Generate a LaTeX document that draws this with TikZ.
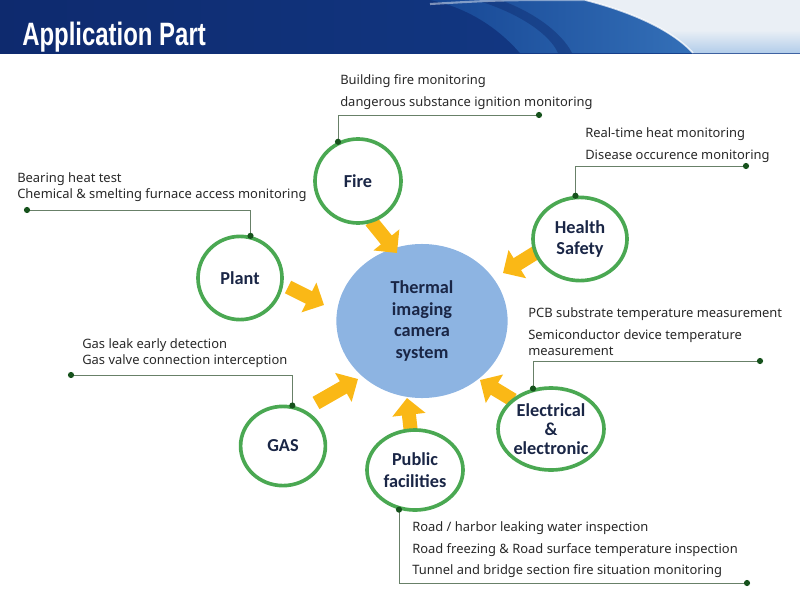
\documentclass[tikz,border=0pt]{standalone}
\usepackage{fontspec}
\usepackage{graphicx}
\setmainfont{Noto Sans}
\newfontfamily\labelfont{Carlito}
\newfontfamily\titlefont{Liberation Sans}
\usetikzlibrary{arrows.meta,shapes.geometric}

\definecolor{navyhead}{RGB}{14,42,110}
\definecolor{bluehead}{RGB}{20,62,140}
\definecolor{swooshblue}{RGB}{52,112,184}
\definecolor{swooshdark}{RGB}{22,70,148}
\definecolor{paletop}{RGB}{234,239,245}
\definecolor{palebottom}{RGB}{178,205,234}
\definecolor{ringgreen}{RGB}{74,168,82}
\definecolor{corefill}{RGB}{141,180,226}
\definecolor{labelnavy}{RGB}{26,38,70}
\definecolor{arrowgold}{RGB}{250,184,22}
\definecolor{leadline}{RGB}{104,128,104}
\definecolor{dotgreen}{RGB}{22,82,28}
\definecolor{desctext}{RGB}{40,40,40}

\begin{document}
\begin{tikzpicture}[x=0.025cm, y=-0.025cm,
    ring/.style={ellipse, draw=ringgreen, line width=2.6pt, fill=white, inner sep=0pt, align=center,
        font=\labelfont\bfseries\fontsize{13}{15.5}\selectfont, text=labelnavy},
    leader/.style={draw=leadline, line width=0.7pt},
    pin/.style={fill=dotgreen},
    feed/.style={-{Triangle[width=23pt,length=12pt]}, line width=10pt, draw=arrowgold},
    desc/.style={anchor=north west, inner sep=0pt, align=left, text=desctext,
        font=\fontsize{9.2}{15.6}\selectfont}]
    \useasboundingbox (0,0) rectangle (800,598);

    % Header band
    \shade[left color=navyhead, right color=bluehead] (0,0) rectangle (800,53);
    \shade[left color=swooshdark, right color=swooshblue] (430,0) -- (585,0) .. controls (632,12) and (672,30) .. (693,53) -- (520,53) .. controls (500,30) and (470,8) .. (430,0) -- cycle;
    \fill[navyhead, opacity=0.45] (482,2) .. controls (522,15) and (550,35) .. (558,53) -- (572,53) .. controls (562,33) and (534,12) .. (500,0) -- cycle;
    \fill[paletop] (585,0) .. controls (632,12) and (672,30) .. (693,53) -- (800,53) -- (800,0) -- cycle;
    \begin{scope}
        \clip (585,0) .. controls (632,12) and (672,30) .. (693,53) -- (800,53) -- (800,0) -- cycle;
        \shade[top color=paletop, bottom color=palebottom] (585,30) rectangle (800,53);
    \end{scope}
    \draw[white, opacity=0.7, line width=1.2pt] (585,0) .. controls (632,12) and (672,30) .. (693,53);
    \draw[white, opacity=0.45, line width=1.5pt] (430,4) .. controls (500,0) .. (585,0);
    \node[anchor=base west, inner sep=0pt, text=white, font=\titlefont\bfseries\fontsize{23}{23}\selectfont] (title) at (22,45) {\scalebox{0.74}[1]{Application Part}};

    % Central system
    \node[ellipse, fill=corefill, minimum width=4.28cm, minimum height=3.85cm, align=center,
        font=\labelfont\bfseries\fontsize{13}{15.4}\selectfont, text=labelnavy] (core) at (422,321) {Thermal\\imaging\\camera\\system};

    % Feed arrows towards the system
    \coordinate (fireA) at (371,221);  \coordinate (fireB) at (397,253);
    \coordinate (healthA) at (540,250); \coordinate (healthB) at (503,273);
    \coordinate (plantA) at (288,287);  \coordinate (plantB) at (324,305);
    \coordinate (gasA) at (316,403);    \coordinate (gasB) at (358,379);
    \coordinate (publicA) at (411,433); \coordinate (publicB) at (407,398);
    \coordinate (elecA) at (513,400);   \coordinate (elecB) at (480,380);
    \draw[feed] (fireA) -- (fireB);
    \draw[feed] (healthA) -- (healthB);
    \draw[feed] (plantA) -- (plantB);
    \draw[feed] (gasA) -- (gasB);
    \draw[feed] (publicA) -- (publicB);
    \draw[feed] (elecA) -- (elecB);

    % Application fields
    \node[ring, minimum width=2.15cm, minimum height=2.1cm] (fire) at (358,181) {Fire};
    \node[ring, minimum width=2.1cm, minimum height=2.08cm] (plant) at (240,278) {Plant};
    \node[ring, minimum width=2.35cm, minimum height=2.08cm] (health) at (580,239) {Health\\Safety};
    \node[ring, minimum width=2.12cm, minimum height=1.98cm] (gas) at (283,446) {GAS};
    \node[ring, minimum width=2.4cm, minimum height=2.0cm] (public) at (415,470) {Public\\facilities};
    \node[ring, minimum width=2.45cm, minimum height=2.05cm, font=\labelfont\bfseries\fontsize{13}{13.5}\selectfont] (elec) at (551,429) {Electrical\\\&\\electronic};

    % Leader lines
    \coordinate (fireTag) at (539,115);
    \coordinate (healthTag) at (746,166);
    \coordinate (plantTag) at (27,210);
    \coordinate (gasTag) at (71,375);
    \coordinate (elecTag) at (760,361);
    \coordinate (publicTag) at (747,583);
    \draw[leader] (fire.117) |- (fireTag);
    \draw[leader] (health.96) |- (healthTag);
    \draw[leader] (plant.76) |- (plantTag);
    \draw[leader] (gas.77) |- (gasTag);
    \draw[leader] (elec.114) |- (elecTag);
    \draw[leader] (public.248) |- (publicTag);
    \fill[pin] (fire.117) circle (2.2pt) (fireTag) circle (2.2pt);
    \fill[pin] (health.96) circle (2.2pt) (healthTag) circle (2.2pt);
    \fill[pin] (plant.76) circle (2.2pt) (plantTag) circle (2.2pt);
    \fill[pin] (gas.77) circle (2.2pt) (gasTag) circle (2.2pt);
    \fill[pin] (elec.114) circle (2.2pt) (elecTag) circle (2.2pt);
    \fill[pin] (public.248) circle (2.2pt) (publicTag) circle (2.2pt);

    % Descriptions
    \node[desc] (fireText) at (340,74) {Building fire monitoring\\dangerous substance ignition monitoring};
    \node[desc] (healthText) at (585,127) {Real-time heat monitoring\\Disease occurence monitoring};
    \node[desc, font=\fontsize{9.2}{12}\selectfont] (plantText) at (17,172) {Bearing heat test\\Chemical \& smelting furnace access monitoring};
    \node[desc, font=\fontsize{9.2}{11.4}\selectfont] (gasText) at (82,338) {Gas leak early detection\\Gas valve connection interception};
    \node[desc, font=\fontsize{9.2}{11.4}\selectfont] (elecText) at (528,307) {PCB substrate temperature measurement\\[4.2pt]Semiconductor device temperature\\measurement};
    \node[desc] (publicText) at (412,521) {Road / harbor leaking water inspection\\Road freezing \& Road surface temperature inspection\\Tunnel and bridge section fire situation monitoring};
\end{tikzpicture}
\end{document}
